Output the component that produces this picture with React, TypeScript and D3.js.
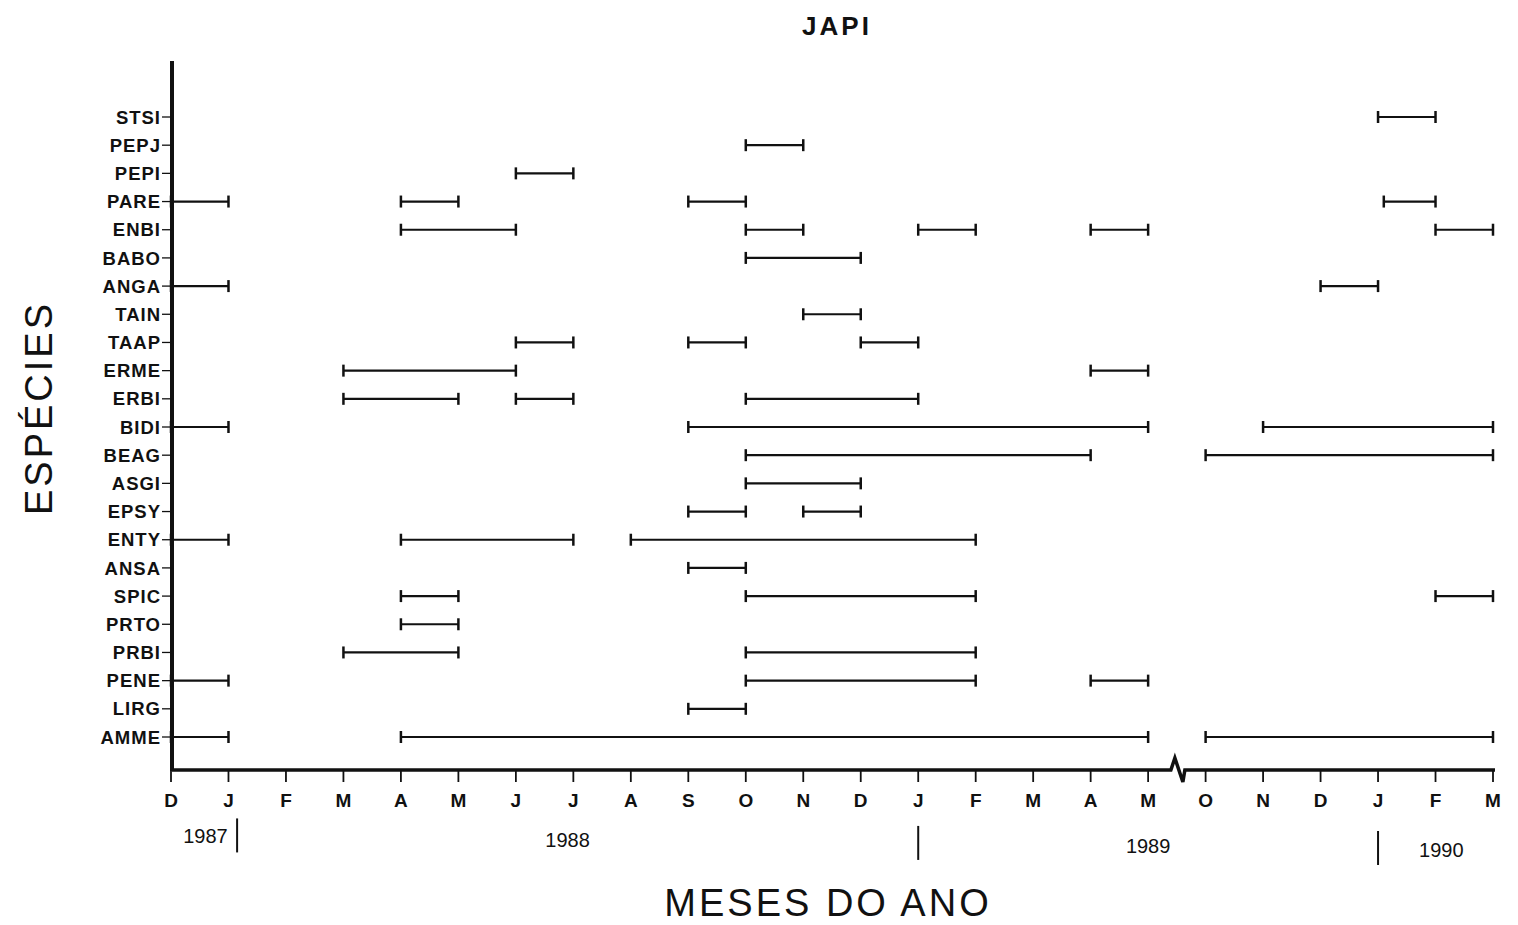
import * as d3 from "d3";

const species = [
  "STSI", "PEPJ", "PEPI", "PARE", "ENBI", "BABO", "ANGA", "TAIN", "TAAP", "ERME", "ERBI", "BIDI",
  "BEAG", "ASGI", "EPSY", "ENTY", "ANSA", "SPIC", "PRTO", "PRBI", "PENE", "LIRG", "AMME",
];

// month index 0 = Dec 1987 ... 17 = May 1989, break, 18 = Oct 1989 ... 23 = Mar 1990
const months = ["D", "J", "F", "M", "A", "M", "J", "J", "A", "S", "O", "N", "D", "J", "F", "M", "A", "M", "O", "N", "D", "J", "F", "M"];

// [species, start month, end month]
const periods: [string, number, number][] = [
  ["STSI", 21, 22],
  ["PEPJ", 10, 11],
  ["PEPI", 6, 7],
  ["PARE", 0, 1], ["PARE", 4, 5], ["PARE", 9, 10], ["PARE", 21.1, 22],
  ["ENBI", 4, 6], ["ENBI", 10, 11], ["ENBI", 13, 14], ["ENBI", 16, 17], ["ENBI", 22, 23],
  ["BABO", 10, 12],
  ["ANGA", 0, 1], ["ANGA", 20, 21],
  ["TAIN", 11, 12],
  ["TAAP", 6, 7], ["TAAP", 9, 10], ["TAAP", 12, 13],
  ["ERME", 3, 6], ["ERME", 16, 17],
  ["ERBI", 3, 5], ["ERBI", 6, 7], ["ERBI", 10, 13],
  ["BIDI", 0, 1], ["BIDI", 9, 17], ["BIDI", 19, 23],
  ["BEAG", 10, 16], ["BEAG", 18, 23],
  ["ASGI", 10, 12],
  ["EPSY", 9, 10], ["EPSY", 11, 12],
  ["ENTY", 0, 1], ["ENTY", 4, 7], ["ENTY", 8, 14],
  ["ANSA", 9, 10],
  ["SPIC", 4, 5], ["SPIC", 10, 14], ["SPIC", 22, 23],
  ["PRTO", 4, 5],
  ["PRBI", 3, 5], ["PRBI", 10, 14],
  ["PENE", 0, 1], ["PENE", 10, 14], ["PENE", 16, 17],
  ["LIRG", 9, 10],
  ["AMME", 0, 1], ["AMME", 4, 17], ["AMME", 18, 23],
];

const yearLabels: [string, number][] = [["1987", 0.6], ["1988", 6.9], ["1989", 17.0], ["1990", 22.1]];
const yearDividers = [1.15, 13, 21];

const W = 1518;
const H = 925;
const ink = "#111";

export default function App() {
  const x = d3.scaleLinear().domain([0, 23]).range([171, 1493]);
  const y = d3.scalePoint<string>().domain(species).range([117, 737]);
  const axisX = 172;
  const axisY = 770;
  const breakX = (x(17) + x(18)) / 2;
  // scan is slightly skewed: year row drifts down to the right
  const skew = (px: number) => (px - 198) * 0.011;

  return (
    <svg
      width={W}
      height={H}
      style={{ position: "absolute", left: 0, top: 0, background: "#fff" }}
      fontFamily="Liberation Sans, Arial, sans-serif"
    >
      <text x={837} y={35} textAnchor="middle" fontSize={26} fontWeight={700} letterSpacing={3} fill={ink}>
        JAPI
      </text>

      {/* y axis */}
      <line x1={axisX} x2={axisX} y1={61} y2={axisY + 1} stroke={ink} strokeWidth={4} />
      {species.map((s) => (
        <g key={s}>
          <line x1={axisX - 10} x2={axisX} y1={y(s)} y2={y(s)} stroke={ink} strokeWidth={1.3} />
          <text
            x={axisX - 11}
            y={y(s)}
            dy="0.36em"
            textAnchor="end"
            fontSize={18.5}
            fontWeight={700}
            letterSpacing={1}
            fill={ink}
          >
            {s}
          </text>
        </g>
      ))}

      {/* x axis with break */}
      <path
        d={`M${axisX},${axisY} H${breakX - 6} L${breakX - 2},${axisY - 12} L${breakX + 6},${axisY + 12} L${breakX + 8},${axisY} H${x(23) + 2}`}
        fill="none"
        stroke={ink}
        strokeWidth={3.5}
      />
      {months.map((m, i) => (
        <g key={i}>
          <line x1={x(i)} x2={x(i)} y1={axisY} y2={axisY + 12} stroke={ink} strokeWidth={1.8} />
          <text x={x(i)} y={axisY + 37} textAnchor="middle" fontSize={19} fontWeight={700} fill={ink}>
            {m}
          </text>
        </g>
      ))}

      {/* years */}
      {yearLabels.map(([label, p]) => (
        <text key={label} x={x(p)} y={843 + skew(x(p))} textAnchor="middle" fontSize={20} fill={ink}>
          {label}
        </text>
      ))}
      {yearDividers.map((p) => (
        <line
          key={p}
          x1={x(p)}
          x2={x(p)}
          y1={818 + skew(x(p))}
          y2={852 + skew(x(p))}
          stroke={ink}
          strokeWidth={2}
        />
      ))}

      {/* occurrence periods */}
      {periods.map(([s, a, b], i) => {
        const yy = y(s) ?? 0;
        return (
          <g key={i} stroke={ink}>
            <line x1={x(a)} x2={x(b)} y1={yy} y2={yy} strokeWidth={2.2} />
            <line x1={x(a)} x2={x(a)} y1={yy - 6} y2={yy + 6} strokeWidth={2.5} />
            <line x1={x(b)} x2={x(b)} y1={yy - 6} y2={yy + 6} strokeWidth={2.5} />
          </g>
        );
      })}

      <text x={828} y={916} textAnchor="middle" fontSize={38} letterSpacing={3} fill={ink}>
        MESES DO ANO
      </text>
      <text
        transform={`translate(52,408) rotate(-90)`}
        textAnchor="middle"
        fontSize={38}
        letterSpacing={3}
        fill={ink}
      >
        ESPÉCIES
      </text>
    </svg>
  );
}
